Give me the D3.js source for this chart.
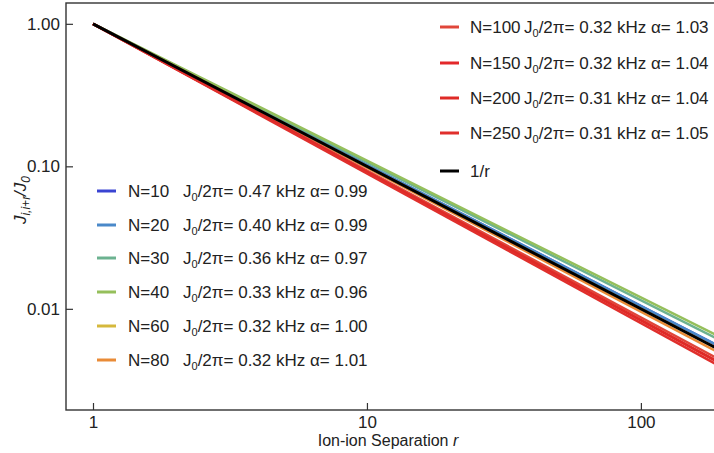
<!DOCTYPE html>
<html>
<head>
<meta charset="utf-8">
<script src="https://cdn.jsdelivr.net/npm/d3@7"></script>
<style>
    body { margin: 0; background: #fff; }
    svg { display: block; font-family: "Liberation Sans", Arial, sans-serif; }
</style>
</head>
<body>
<div id="chart"></div>
<script>
//Datos
const nValues = [10, 20, 30, 40, 60, 80, 100, 150, 200, 250];
const j0Values = ['0.47', '0.40', '0.36', '0.33', '0.32', '0.32', '0.32', '0.32', '0.31', '0.31'];
const alphaValues = ['0.99', '0.99', '0.97', '0.96', '1.00', '1.01', '1.03', '1.04', '1.04', '1.05'];
const seriesColors = ['#3a44d2', '#4a89c9', '#6cb290', '#95bf5b', '#d5b83c', '#e98b37', '#e0463a', '#e3282a', '#df2a26', '#e02f2c'];
const rEnds = [1, 190];
const xTicks = [1, 10, 100];
const yTicks = [1, 0.1, 0.01];
const yTickLabels = ['1.00', '0.10', '0.01'];

const width = 714, height = 453;
const margin = {top: 3, right: -2, bottom: 43, left: 66};
const fs = 17;

let svg = d3.select('#chart').append('svg')
    .attr('width', width)
    .attr('height', height);

//Escalas logarítmicas
let x_c = d3.scaleLog()
    .domain([0.797, 188])
    .range([margin.left, width - margin.right]);

let y_c = d3.scaleLog()
    .domain([0.00195, 1.40])
    .range([height - margin.bottom, margin.top]);

svg.append('clipPath').attr('id', 'clip')
    .append('rect')
    .attr('x', margin.left).attr('y', margin.top)
    .attr('width', width - margin.right - margin.left)
    .attr('height', height - margin.bottom - margin.top);

let line = d3.line()
    .x(function(d) { return x_c(d[0]); })
    .y(function(d) { return y_c(d[1]); });

let plot = svg.append('g').attr('clip-path', 'url(#clip)');

//Líneas de ajuste r^-alpha
nValues.forEach(function(n, i) {
    let a = +alphaValues[i];
    let pts = rEnds.map(function(r) { return [r, Math.pow(r, -a)]; });
    plot.append('path')
        .datum(pts)
        .attr('fill', 'none')
        .attr('stroke', seriesColors[i])
        .attr('stroke-width', 2.5)
        .attr('d', line);
});

//1/r
plot.append('path')
    .datum(rEnds.map(function(r) { return [r, 1 / r]; }))
    .attr('fill', 'none')
    .attr('stroke', '#000')
    .attr('stroke-width', 3)
    .attr('d', line);

//Marco
svg.append('rect')
    .attr('x', margin.left).attr('y', margin.top)
    .attr('width', width - margin.right - margin.left)
    .attr('height', height - margin.bottom - margin.top)
    .attr('fill', 'none')
    .attr('stroke', '#333')
    .attr('stroke-width', 1.4);

//Ejes con ticks hacia dentro
let xAxis = svg.append('g')
    .attr('transform', 'translate(0,' + (height - margin.bottom) + ')')
    .call(d3.axisBottom(x_c).tickValues(xTicks).tickSize(-7).tickPadding(6).tickFormat(d3.format('d')));
xAxis.select('.domain').remove();
xAxis.selectAll('.tick line').attr('stroke', '#333').attr('stroke-width', 1.2);
xAxis.selectAll('text').attr('font-size', fs).attr('fill', '#222').attr('font-family', null);

let yAxis = svg.append('g')
    .attr('transform', 'translate(' + margin.left + ',0)')
    .call(d3.axisLeft(y_c).tickValues(yTicks).tickSize(-7).tickPadding(6)
        .tickFormat(function(d, i) { return yTickLabels[i]; }));
yAxis.select('.domain').remove();
yAxis.selectAll('.tick line').attr('stroke', '#333').attr('stroke-width', 1.2);
yAxis.selectAll('text').attr('font-size', fs).attr('fill', '#222').attr('font-family', null);

//Títulos de ejes
let xt = svg.append('text')
    .attr('x', 388)
    .attr('y', 446)
    .attr('text-anchor', 'middle')
    .attr('font-size', 16)
    .attr('fill', '#222');
xt.append('tspan').text('Ion-ion Separation ');
xt.append('tspan').attr('font-style', 'italic').text('r');

let yt = svg.append('text')
    .attr('transform', 'translate(26,200) rotate(-90)')
    .attr('text-anchor', 'middle')
    .attr('font-size', 17)
    .attr('font-style', 'italic')
    .attr('fill', '#222');
yt.append('tspan').text('J');
yt.append('tspan').attr('font-size', 12).attr('dy', 4).text('i,i+r');
yt.append('tspan').attr('dy', -4).text('/J');
yt.append('tspan').attr('font-size', 12).attr('dy', 4).text('0');

//Leyendas
function legendRow(g, color, xLine, xText, y, label, j0, alpha, gap) {
    g.append('line')
        .attr('x1', xLine).attr('x2', xLine + 19)
        .attr('y1', y).attr('y2', y)
        .attr('stroke', color).attr('stroke-width', 3);
    let t = g.append('text')
        .attr('x', xText).attr('y', y + 6)
        .attr('font-size', fs)
        .attr('fill', '#222');
    t.append('tspan').text(label);
    if (j0 === null) return;
    t.append('tspan').attr('x', xText + gap).text('J');
    t.append('tspan').attr('font-size', 11).attr('dy', 4).text('0');
    t.append('tspan').attr('dy', -4).text('/2π= ' + j0 + ' kHz α= ' + alpha);
}

let legend = svg.append('g');
let leftRows = [191, 225, 258, 292, 326, 360];
for (let i = 0; i < 6; i++) {
    legendRow(legend, seriesColors[i], 97, 128, leftRows[i], 'N=' + nValues[i], j0Values[i], alphaValues[i], 55);
}
let rightRows = [27, 63, 98, 133];
for (let i = 6; i < 10; i++) {
    legendRow(legend, seriesColors[i], 440, 470, rightRows[i - 6], 'N=' + nValues[i], j0Values[i], alphaValues[i], 54);
}
legendRow(legend, '#000', 440, 470, 171, '1/r', null, null, 0);
</script>
</body>
</html>
